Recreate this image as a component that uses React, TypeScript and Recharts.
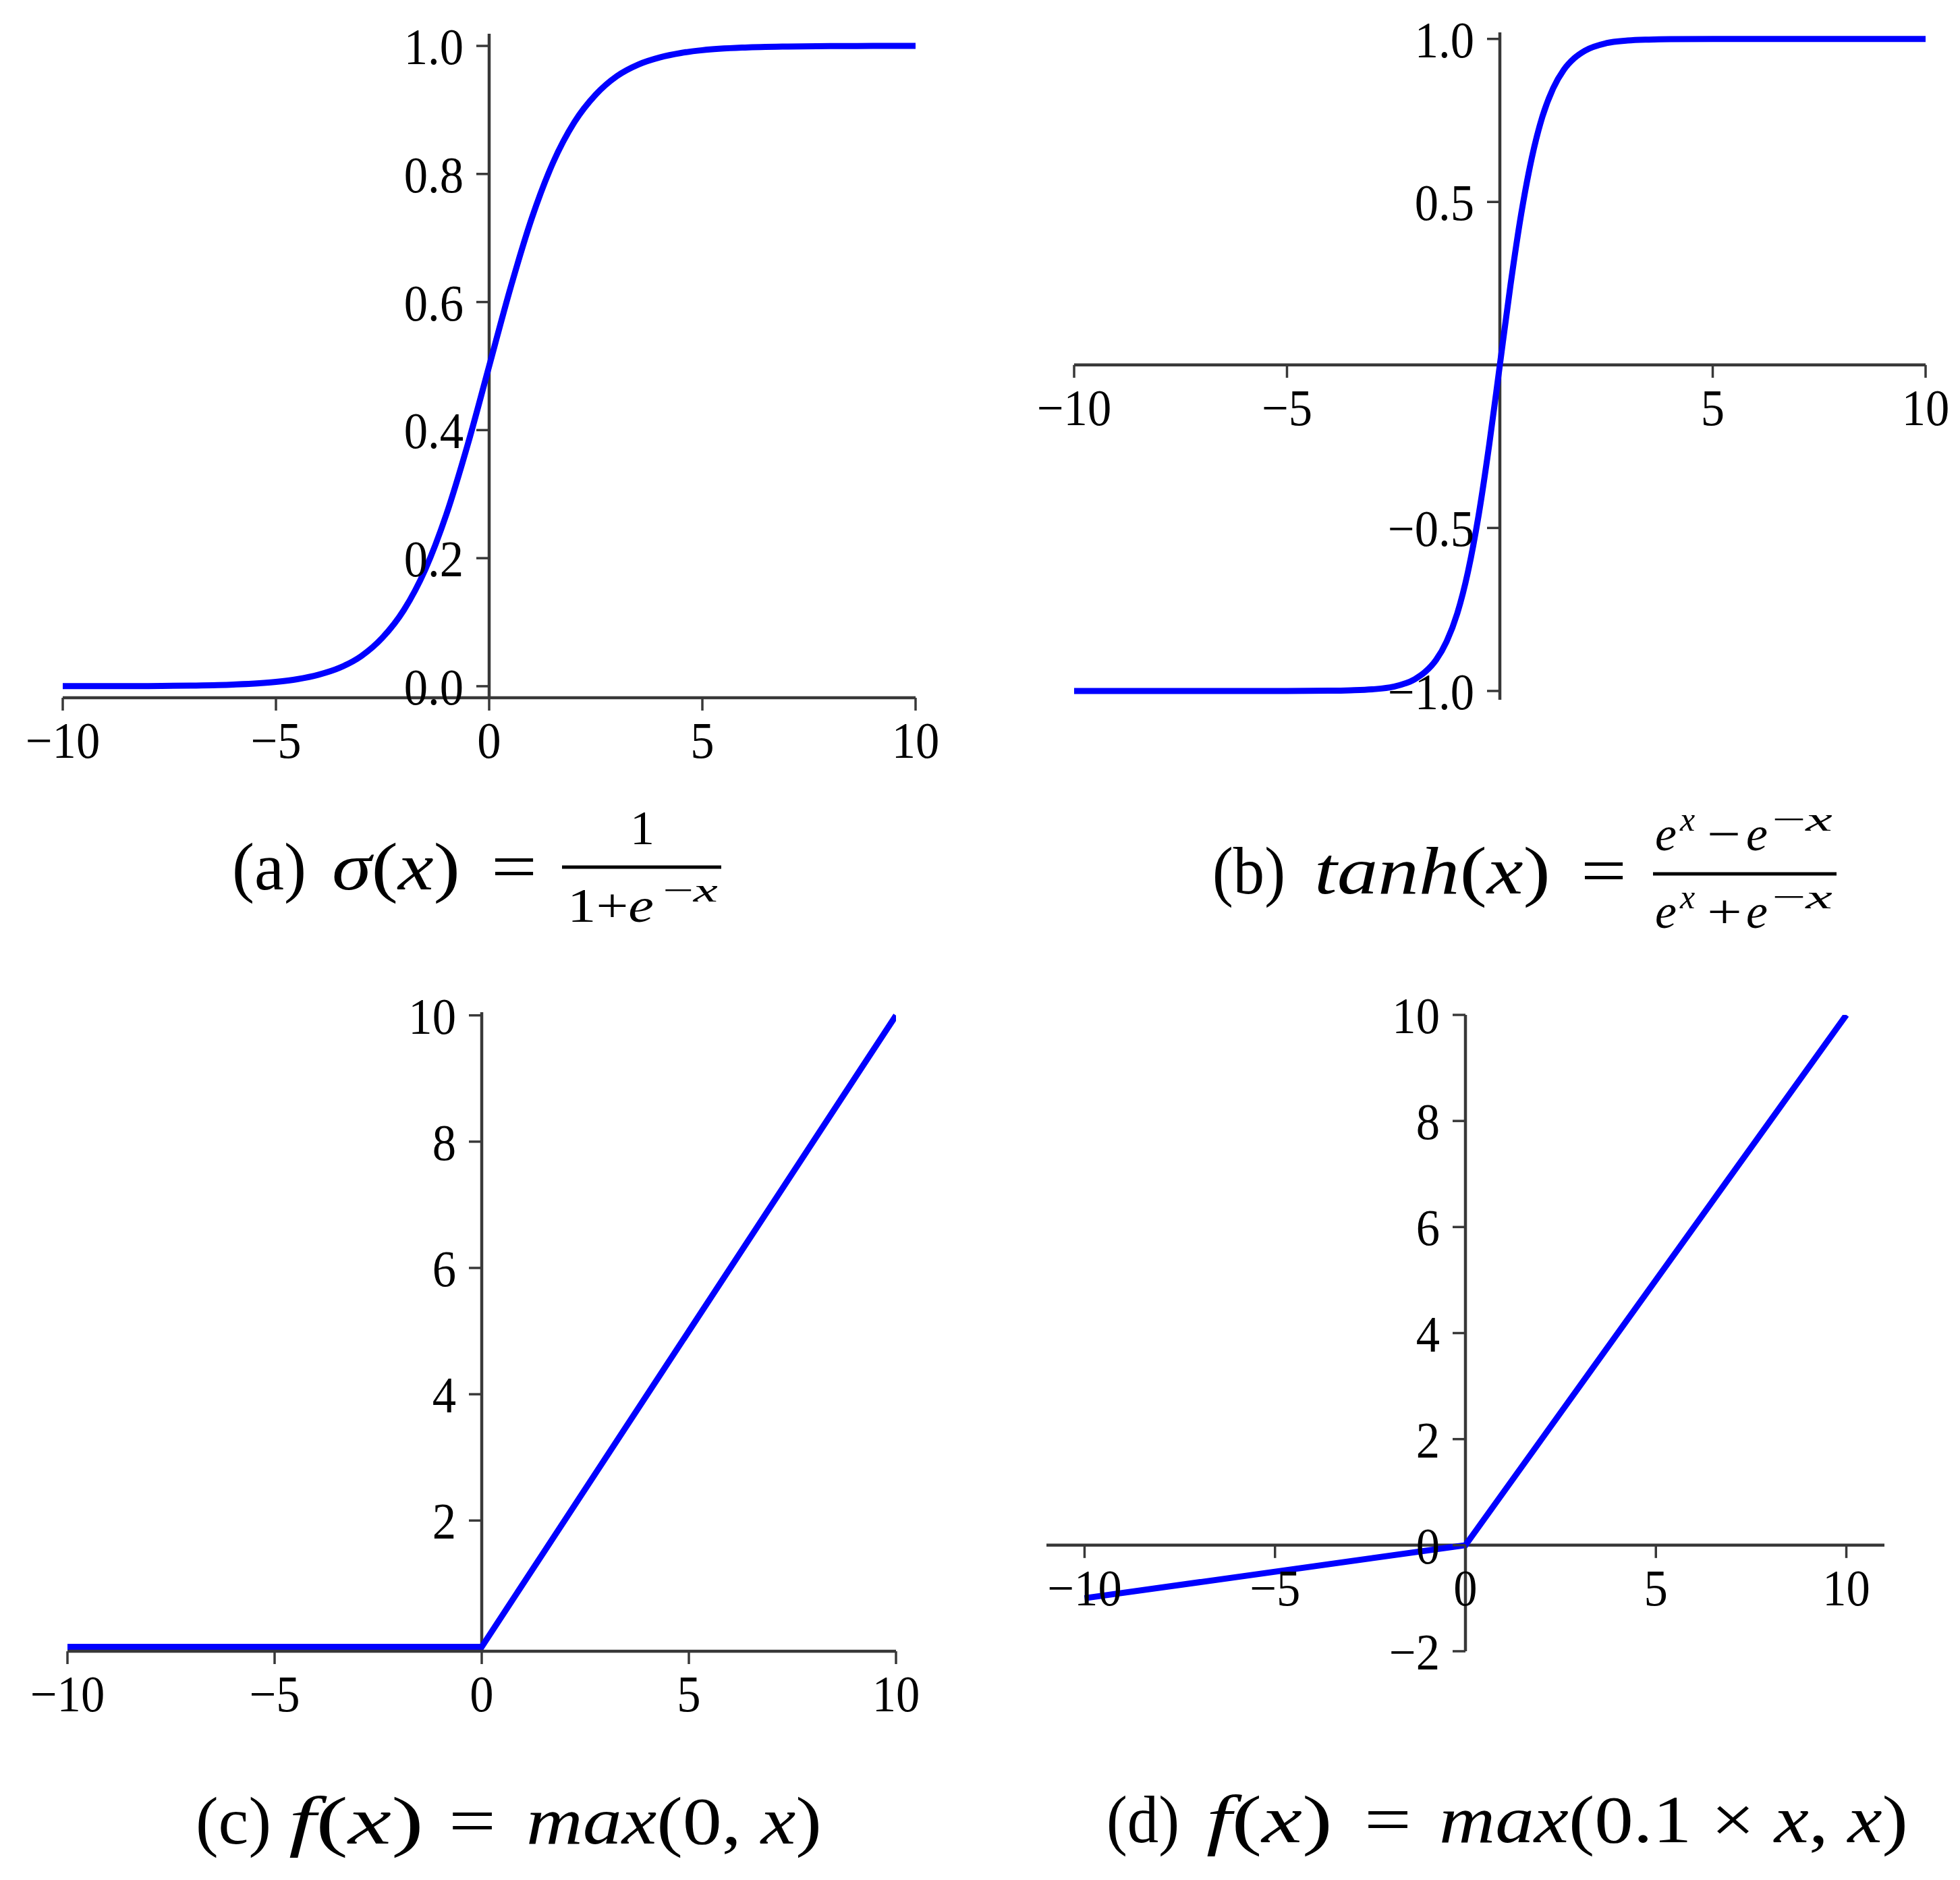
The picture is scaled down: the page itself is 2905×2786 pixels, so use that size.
import React from "react"
import { Line, LineChart, ReferenceLine, XAxis, YAxis } from "recharts"

// values
const sigmoidX = [-10, -9, -8, -7, -6, -5, -4.5, -4, -3.5, -3, -2.5, -2, -1.5, -1, -0.5, 0, 0.5, 1, 1.5, 2, 2.5, 3, 3.5, 4, 4.5, 5, 6, 7, 8, 9, 10]
const sigmoidY = [0.00005, 0.0001, 0.0003, 0.0009, 0.0025, 0.0067, 0.011, 0.018, 0.029, 0.047, 0.076, 0.119, 0.182, 0.269, 0.378, 0.5, 0.622, 0.731, 0.818, 0.881, 0.924, 0.953, 0.971, 0.982, 0.989, 0.9933, 0.9975, 0.9991, 0.9997, 0.9999, 1.0]

const tanhX = [-10, -8, -6, -5, -4, -3.5, -3, -2.5, -2, -1.75, -1.5, -1.25, -1, -0.75, -0.5, -0.25, 0, 0.25, 0.5, 0.75, 1, 1.25, 1.5, 1.75, 2, 2.5, 3, 3.5, 4, 5, 6, 8, 10]
const tanhY = [-1, -1, -1, -0.9999, -0.9993, -0.998, -0.995, -0.987, -0.964, -0.941, -0.905, -0.848, -0.762, -0.635, -0.462, -0.245, 0, 0.245, 0.462, 0.635, 0.762, 0.848, 0.905, 0.941, 0.964, 0.987, 0.995, 0.998, 0.9993, 0.9999, 1, 1, 1]

const reluX = [-10, 0, 10]
const reluY = [0, 0, 10]

const leakyX = [-10, 0, 10]
const leakyY = [-1, 0, 10]

const xTicksAll = [-10, -5, 0, 5, 10]
const xTicksNoZero = [-10, -5, 5, 10]
const sigmoidTicks = [0, 0.2, 0.4, 0.6, 0.8, 1.0]
const tanhTicks = [-1, -0.5, 0.5, 1]
const reluTicks = [2, 4, 6, 8, 10]
const leakyTicks = [-2, 0, 2, 4, 6, 8, 10]

const SERIF = '"Liberation Serif", "Times New Roman", serif'
const AXIS = "#383838"
const BLUE = "#0000ff"
const TICK_LEN = 19
const LABEL_SIZE = 76
const SQUEEZE = 0.93
const PAD = { top: 40, right: 45, bottom: 150, left: 60 }

const zip = (xs: number[], ys: number[]) => xs.map((x, i) => ({ x, y: ys[i] }))
const minus = (s: string) => s.replace("-", "\u2212")
const fmtInt = (v: number) => minus(String(v))
const fmtOne = (v: number) => minus(v.toFixed(1))

type Rect = { x0: number; x1: number; y0: number; y1: number }

type PanelProps = {
  data: { x: number; y: number }[]
  plot: Rect
  xDomain: [number, number]
  yDomain: [number, number]
  xTicks: number[]
  yTicks: number[]
  fmtY: (v: number) => string
  xAxisAt: number
  curve: "monotone" | "linear"
}

function Panel({ data, plot, xDomain, yDomain, xTicks, yTicks, fmtY, xAxisAt, curve }: PanelProps) {
  const w = plot.x1 - plot.x0
  const h = plot.y1 - plot.y0
  // the axes cross at x = 0 and y = xAxisAt, so the ticks are shifted there
  const shiftX = (w * (0 - xDomain[0])) / (xDomain[1] - xDomain[0])
  const shiftY = (h * (xAxisAt - yDomain[0])) / (yDomain[1] - yDomain[0])
  const bottomAxis = xAxisAt === yDomain[0]

  const xTick = (props: any) => {
    const { x, y, payload } = props
    const ay = y - shiftY
    return (
      <g>
        <line x1={x} x2={x} y1={ay} y2={ay + TICK_LEN} stroke={AXIS} strokeWidth={3.5} />
        <g transform={`translate(${x},${ay + 89}) scale(${SQUEEZE},1)`}>
          <text x={0} y={0} textAnchor="middle" fontSize={LABEL_SIZE} fontFamily={SERIF} fill="#000">
            {fmtInt(payload.value)}
          </text>
        </g>
      </g>
    )
  }

  const yTick = (props: any) => {
    const { x, y, payload } = props
    const ax = x + shiftX
    return (
      <g>
        <line x1={ax - TICK_LEN} x2={ax} y1={y} y2={y} stroke={AXIS} strokeWidth={3.5} />
        <g transform={`translate(${ax - 38},${y + 27}) scale(${SQUEEZE},1)`}>
          <text x={0} y={0} textAnchor="end" fontSize={LABEL_SIZE} fontFamily={SERIF} fill="#000">
            {fmtY(payload.value)}
          </text>
        </g>
      </g>
    )
  }

  return (
    <div style={{ position: "absolute", left: plot.x0 - PAD.left, top: plot.y0 - PAD.top }}>
      <LineChart
        width={w + PAD.left + PAD.right}
        height={h + PAD.top + PAD.bottom}
        data={data}
        margin={{ top: PAD.top, right: PAD.right, bottom: PAD.bottom - 1, left: PAD.left - 1 }}
      >
        <XAxis
          dataKey="x"
          type="number"
          domain={xDomain}
          allowDataOverflow
          ticks={xTicks}
          interval={0}
          height={1}
          tickSize={0}
          tickMargin={0}
          tickLine={false}
          axisLine={bottomAxis ? { stroke: AXIS, strokeWidth: 4.5 } : false}
          tick={xTick}
        />
        <YAxis
          type="number"
          domain={yDomain}
          allowDataOverflow
          ticks={yTicks}
          interval={0}
          width={1}
          tickSize={0}
          tickMargin={0}
          tickLine={false}
          axisLine={false}
          tick={yTick}
        />
        <ReferenceLine x={0} stroke={AXIS} strokeWidth={4.5} />
        {!bottomAxis && <ReferenceLine y={0} stroke={AXIS} strokeWidth={4.5} />}
        <Line
          dataKey="y"
          type={curve}
          stroke={BLUE}
          strokeWidth={9}
          dot={false}
          isAnimationActive={false}
        />
      </LineChart>
    </div>
  )
}

const CAP = 100
const FR = 72
const SUP = 50

function Captions() {
  const t = { fontFamily: SERIF, fill: "#000" }
  const fit = { lengthAdjust: "spacingAndGlyphs" as const }
  return (
    <svg width={2905} height={2786} style={{ position: "absolute", left: 0, top: 0 }}>
      <g {...t}>
        {/* (a) */}
        <text x={344} y={1318} fontSize={CAP} textLength={110} {...fit}>(a)</text>
        <text x={492} y={1318} fontSize={CAP} textLength={190} {...fit}>
          <tspan fontStyle="italic">σ</tspan>(<tspan fontStyle="italic">x</tspan>)
        </text>
        <text x={728} y={1318} fontSize={CAP} textLength={68} {...fit}>=</text>
        <line x1={833} x2={1069} y1={1285} y2={1285} stroke="#000" strokeWidth={5} />
        <text x={952} y={1251} fontSize={FR} textAnchor="middle">1</text>
        <text x={841} y={1366} fontSize={FR} textLength={128} {...fit}>
          1+<tspan fontStyle="italic">e</tspan>
        </text>
        <text x={982} y={1336} fontSize={SUP} textLength={82} {...fit}>
          −<tspan fontStyle="italic">x</tspan>
        </text>

        {/* (b) */}
        <text x={1797} y={1324} fontSize={CAP} textLength={108} {...fit}>(b)</text>
        <text x={1948} y={1324} fontSize={CAP} textLength={350} {...fit}>
          <tspan fontStyle="italic">tanh</tspan>(<tspan fontStyle="italic">x</tspan>)
        </text>
        <text x={2343} y={1324} fontSize={CAP} textLength={68} {...fit}>=</text>
        <line x1={2450} x2={2722} y1={1295} y2={1295} stroke="#000" strokeWidth={5} />
        <text x={2453} y={1260} fontSize={FR} fontStyle="italic">e</text>
        <text x={2490} y={1231} fontSize={SUP} fontStyle="italic">x</text>
        <text x={2530} y={1260} fontSize={FR} textLength={50} {...fit}>−</text>
        <text x={2588} y={1260} fontSize={FR} fontStyle="italic">e</text>
        <text x={2626} y={1231} fontSize={SUP} textLength={90} {...fit}>
          −<tspan fontStyle="italic">x</tspan>
        </text>
        <text x={2453} y={1375} fontSize={FR} fontStyle="italic">e</text>
        <text x={2490} y={1346} fontSize={SUP} fontStyle="italic">x</text>
        <text x={2530} y={1375} fontSize={FR} textLength={52} {...fit}>+</text>
        <text x={2588} y={1375} fontSize={FR} fontStyle="italic">e</text>
        <text x={2626} y={1346} fontSize={SUP} textLength={90} {...fit}>
          −<tspan fontStyle="italic">x</tspan>
        </text>

        {/* (c) */}
        <text x={290} y={2732} fontSize={CAP} textLength={112} {...fit}>(c)</text>
        <text x={428} y={2732} fontSize={CAP} textLength={200} {...fit}>
          <tspan fontStyle="italic">f</tspan>(<tspan fontStyle="italic">x</tspan>)
        </text>
        <text x={665} y={2732} fontSize={CAP} textLength={70} {...fit}>=</text>
        <text x={780} y={2732} fontSize={CAP} textLength={438} {...fit}>
          <tspan fontStyle="italic">max</tspan>(0, <tspan fontStyle="italic">x</tspan>)
        </text>

        {/* (d) */}
        <text x={1640} y={2730} fontSize={CAP} textLength={108} {...fit}>(d)</text>
        <text x={1788} y={2730} fontSize={CAP} textLength={187} {...fit}>
          <tspan fontStyle="italic">f</tspan>(<tspan fontStyle="italic">x</tspan>)
        </text>
        <text x={2022} y={2730} fontSize={CAP} textLength={70} {...fit}>=</text>
        <text x={2133} y={2730} fontSize={CAP} textLength={695} {...fit}>
          <tspan fontStyle="italic">max</tspan>(0.1 × <tspan fontStyle="italic">x</tspan>, <tspan fontStyle="italic">x</tspan>)
        </text>
      </g>
    </svg>
  )
}

export default function App() {
  return (
    <div
      style={{
        position: "absolute",
        left: 0,
        top: 0,
        width: 2905,
        height: 2786,
        background: "#fff",
        overflow: "hidden",
      }}
    >
      <Panel
        data={zip(sigmoidX, sigmoidY)}
        plot={{ x0: 93, x1: 1357, y0: 50, y1: 1034 }}
        xDomain={[-10, 10]}
        yDomain={[-0.018, 1.019]}
        xTicks={xTicksAll}
        yTicks={sigmoidTicks}
        fmtY={fmtOne}
        xAxisAt={-0.018}
        curve="monotone"
      />
      <Panel
        data={zip(tanhX, tanhY)}
        plot={{ x0: 1592, x1: 2854, y0: 48, y1: 1037 }}
        xDomain={[-10, 10]}
        yDomain={[-1.027, 1.02]}
        xTicks={xTicksNoZero}
        yTicks={tanhTicks}
        fmtY={fmtOne}
        xAxisAt={0}
        curve="monotone"
      />
      <Panel
        data={zip(reluX, reluY)}
        plot={{ x0: 100, x1: 1328, y0: 1500, y1: 2447 }}
        xDomain={[-10, 10]}
        yDomain={[-0.07, 10.05]}
        xTicks={xTicksAll}
        yTicks={reluTicks}
        fmtY={fmtInt}
        xAxisAt={-0.07}
        curve="linear"
      />
      <Panel
        data={zip(leakyX, leakyY)}
        plot={{ x0: 1551, x1: 2793, y0: 1504, y1: 2447 }}
        xDomain={[-11, 11]}
        yDomain={[-2, 10]}
        xTicks={xTicksAll}
        yTicks={leakyTicks}
        fmtY={fmtInt}
        xAxisAt={0}
        curve="linear"
      />
      <Captions />
    </div>
  )
}
